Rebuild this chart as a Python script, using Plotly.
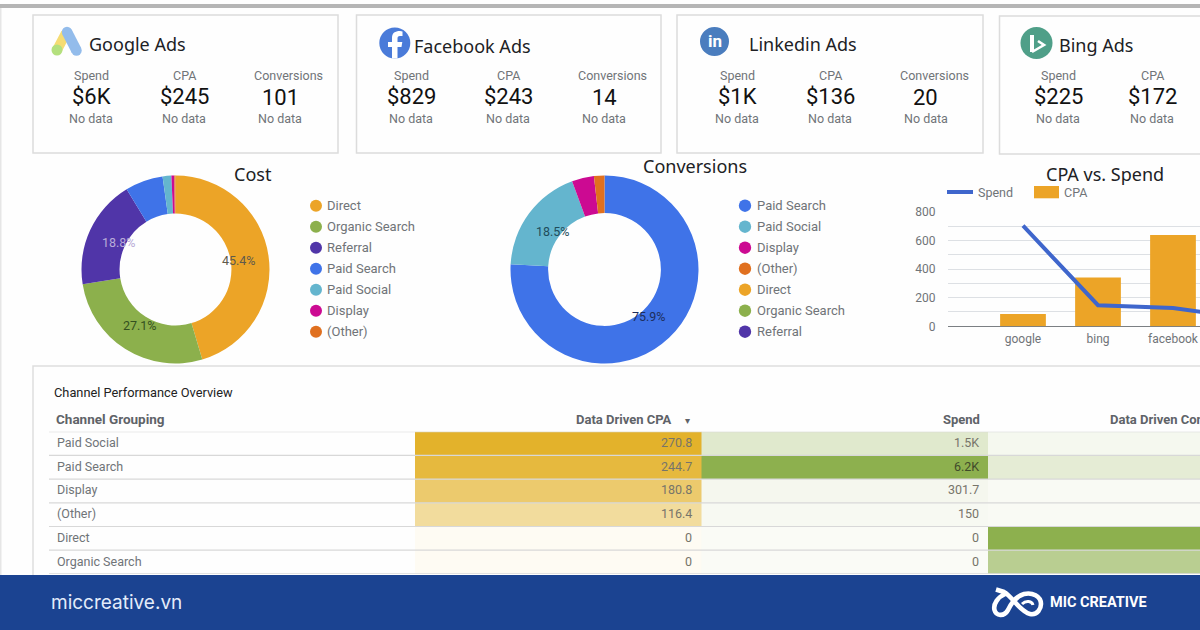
import plotly.graph_objects as go

# ---------- data ----------
cost_labels = ["Direct", "Organic Search", "Referral", "Paid Search", "Paid Social", "Display", "(Other)"]
cost_values = [45.4, 27.1, 18.8, 6.5, 1.5, 0.5, 0.2]
conv_labels = ["Paid Search", "Paid Social", "Display", "(Other)", "Direct", "Organic Search", "Referral"]
conv_values = [75.9, 18.5, 3.8, 1.8, 0, 0, 0]

bar_categories = ["google", "bing", "facebook", "linkedin"]
cpa_bars = [86, 340, 637, 0]
spend_line = [702, 147, 128, 56]
y_ticks = [0, 100, 200, 300, 400, 500, 600, 700, 800]
y_ticktext = ["0", "", "200", "", "400", "", "600", "", "800"]

card_names = ["Google Ads", "Facebook Ads", "Linkedin Ads", "Bing Ads"]
card_spend = ["$6K", "$829", "$1K", "$225"]
card_cpa = ["$245", "$243", "$136", "$172"]
card_conv = ["101", "14", "20", None]

rows = ["Paid Social", "Paid Search", "Display", "(Other)", "Direct", "Organic Search"]
columns = ["Data Driven CPA", "Spend", "Data Driven Conversions"]
cpa_values = [270.8, 244.7, 180.8, 116.4, 0, 0]
spend_values = [1500, 6200, 301.7, 150, 0, 0]
spend_text = ["1.5K", "6.2K", "301.7", "150", "0", "0"]
conv_column_values = [5.6, 25.3, 1.7, 1.3, 130, 78]

# ---------- styles ----------
W, H = 1200, 630
COL = {"Direct": "#ECA427", "Organic Search": "#8CB04C", "Referral": "#5035A8", "Paid Search": "#3F73E8",
       "Paid Social": "#64B5CE", "Display": "#CC0A92", "(Other)": "#E0701F"}
GRAY = "#707478"
SANS = "Roboto"
HEAD = "Noto Sans"


def X(v):
    return v / W


def Y(v):
    return 1 - v / H


shapes, ann = [], []


def text(x, y, s, size=13, color=GRAY, anchor="center", family=SANS, bold=False):
    ann.append(dict(xref="paper", yref="paper", x=X(x), y=Y(y), text=f"<b>{s}</b>" if bold else s,
                    showarrow=False, xanchor=anchor, yanchor="middle", align=anchor,
                    font=dict(size=size, color=color, family=family), borderpad=0))


def rect(x0, y0, x1, y1, fill=None, line=None, lw=1.5, layer="below"):
    shapes.append(dict(type="rect", xref="paper", yref="paper", x0=X(x0), x1=X(x1), y0=Y(y0), y1=Y(y1),
                       fillcolor=fill or "rgba(0,0,0,0)", line=dict(color=line or "rgba(0,0,0,0)", width=lw if line else 0),
                       layer=layer))


def circle(cx, cy, r, fill, layer="above"):
    shapes.append(dict(type="circle", xref="paper", yref="paper", x0=X(cx - r), x1=X(cx + r), y0=Y(cy + r), y1=Y(cy - r),
                       fillcolor=fill, line=dict(width=0), layer=layer))


def path(pts, color, width=0, fill=None, layer="above"):
    out = []
    for p in pts:
        if isinstance(p, str):
            out.append(p)
        else:
            out.append(f"{X(p[0]):.5f},{Y(p[1]):.5f}")
    shapes.append(dict(type="path", xref="paper", yref="paper", path=" ".join(out),
                       line=dict(color=color, width=width), fillcolor=fill or "rgba(0,0,0,0)", layer=layer))


# page furniture
rect(0, 4, 1200, 8, fill="#B5B5B5")
rect(0, 8, 1.5, 575, fill="#E6E6E6")

# KPI cards
card_boxes = [(33, 15, 338, 153), (356.5, 15, 661, 153), (677, 15, 983, 153), (999.5, 16, 1215, 154)]
name_pos = [(88, 44), (413, 46), (748, 44), (1058, 45)]
col_x = [(91, 184, 288, 280), (411, 508, 612, 604), (737, 830, 934, 926), (1058, 1152, 1256, 1248)]
for i, b in enumerate(card_boxes):
    rect(*b, line="#DCDCDC", lw=1.5)
    text(*name_pos[i], card_names[i], size=18, color="#202124", anchor="left", family=HEAD)
    a, c, d, e = col_x[i]
    text(a, 75, "Spend", size=12.5)
    text(c, 75, "CPA", size=12.5)
    text(a, 96, card_spend[i], size=22, color="#111111")
    text(c, 96, card_cpa[i], size=22, color="#111111")
    text(a, 118.5, "No data", size=12.5)
    text(c, 118.5, "No data", size=12.5)
    if card_conv[i] is not None:
        text(d, 75, "Conversions", size=12.5)
        text(e, 97, card_conv[i], size=22, color="#111111")
        text(e, 118.5, "No data", size=12.5)

# card logos
path(["M", (66, 33), "L", (57, 50)], "#F5DC73", width=10)
circle(57, 50, 5.5, "#B4E07E")
path(["M", (67, 32), "L", (76.5, 50.5)], "#93BCEB", width=10.5)
circle(67, 32, 5.2, "#93BCEB")
circle(76.5, 50.5, 5.2, "#93BCEB")
circle(394.8, 43, 15.5, "#4A7BD9")
path(["M", (392, 58.4), "L", (392, 47), "L", (388, 47), "L", (388, 42), "L", (392, 42), "L", (392, 38),
      "C", (392, 33), (395, 31), (400, 31), "L", (402.5, 31.5), "L", (402.5, 36), "L", (400, 36),
      "C", (398, 36), (397.5, 37), (397.5, 38.5), "L", (397.5, 42), "L", (402.3, 42), "L", (401.5, 47),
      "L", (397.5, 47), "L", (397.5, 58.4), "Z"], "#FFFFFF", fill="#FFFFFF")
circle(714.5, 41.5, 14.5, "#4A7DBE")
text(714.5, 41.5, "in", size=17, color="#FFFFFF", bold=True)
circle(1036.5, 43, 16, "#4F9F88")
path(["M", (1032, 35), "L", (1032, 52)], "#FFFFFF", width=4)
path(["M", (1032, 52), "L", (1044, 45), "L", (1038, 41)], "#FFFFFF", width=2.6)

# chart titles
text(253, 174, "Cost", size=18, color="#202124", family=HEAD)
text(695, 166, "Conversions", size=18, color="#202124", family=HEAD)
text(1105, 174, "CPA vs. Spend", size=18, color="#202124", family=HEAD)

# donut legends
for i, name in enumerate(cost_labels):
    yy = 205.7 + 21 * i
    circle(316, yy, 6, COL[name])
    text(326, yy, name, size=13, anchor="left")
for i, name in enumerate(conv_labels):
    yy = 205.7 + 21 * i
    circle(745, yy, 6.2, COL[name])
    text(755.5, yy, name, size=13, anchor="left")

# donut labels
for (x, y, v, c) in [(238.7, 260.7, cost_values[0], "#5f5a4c"), (140, 325.7, cost_values[1], "#34501f"),
                     (118.7, 243, cost_values[2], "#b9acd8")]:
    text(x, y, f"{v:.1f}%", size=12.5, color=c)
for (x, y, v, c) in [(649, 316.7, conv_values[0], "#1d2e5c"), (553, 231.7, conv_values[1], "#1f4c5a")]:
    text(x, y, f"{v:.1f}%", size=12.5, color=c)

# bar-chart legend
path(["M", (947, 192), "L", (973, 192)], "#3F66CC", width=4)
text(977, 192, "Spend", size=12.5, anchor="left")
rect(1034, 186, 1059, 198.3, fill="#ECA427", layer="above")
text(1063, 192, "CPA", size=12.5, anchor="left")

# table furniture
path(["M", (33, 575), "L", (33, 366), "L", (1200, 366)], "#DEDEDE", width=1.5, layer="below")
text(53, 392, "Channel Performance Overview", size=12.8, color="#222222", anchor="left")
text(55, 419, "Channel Grouping", size=13.5, color="#5f6368", anchor="left", bold=True)
text(673, 419, "Data Driven CPA", size=13, color="#5f6368", anchor="right", bold=True)
text(687, 420, "▾", size=10, color="#5f6368")
text(981, 419, columns[1], size=13, color="#5f6368", anchor="right", bold=True)
text(1109, 419, columns[2], size=13, color="#5f6368", anchor="left", bold=True)

# footer
rect(0, 575, 1200, 630, fill="#1B4391", layer="above")
text(50, 602, "miccreative.vn", size=19, color="#E4ECFA", anchor="left", family="Inter")
text(1049, 602, "MIC CREATIVE", size=14.5, color="#FFFFFF", anchor="left", family=SANS, bold=True)
path(["M", (996, 589.5), "L", (1004, 592), "C", (1012, 596), (1020, 612), (1030, 614),
      "C", (1038, 615.5), (1041, 608), (1041, 604), "C", (1041, 596), (1032, 592), (1024, 594),
      "C", (1016, 596), (1010, 606), (1008, 610), "C", (1004, 617), (996, 616), (994.5, 610),
      "C", (993, 604), (998, 597), (1005, 594)], "#FFFFFF", width=4.6)
path(["M", (1022, 604), "C", (1026, 600), (1032, 601), (1033, 605)], "#FFFFFF", width=3)

fig = go.Figure()

# donuts
fig.add_trace(go.Pie(labels=cost_labels, values=cost_values, hole=0.595, sort=False, direction="clockwise", rotation=0,
                     marker=dict(colors=[COL[n] for n in cost_labels], line=dict(width=0)), textinfo="none",
                     domain=dict(x=[X(175.5 - 94), X(175.5 + 94)], y=[Y(269.5 + 94), Y(269.5 - 94)]), showlegend=False))
fig.add_trace(go.Pie(labels=conv_labels, values=conv_values, hole=0.6, sort=False, direction="clockwise", rotation=0,
                     marker=dict(colors=[COL[n] for n in conv_labels], line=dict(width=0)), textinfo="none",
                     domain=dict(x=[X(604.5 - 94), X(604.5 + 94)], y=[Y(269.5 + 94), Y(269.5 - 94)]), showlegend=False))

# combo chart
fig.add_trace(go.Bar(x=bar_categories, y=cpa_bars, marker=dict(color="#ECA427", line=dict(width=0)), width=0.61,
                     xaxis="x", yaxis="y", name="CPA", showlegend=False))
fig.add_trace(go.Scatter(x=bar_categories, y=spend_line, mode="lines", line=dict(color="#3F66CC", width=4),
                         xaxis="x", yaxis="y", name="Spend", showlegend=False))

# table as per-column heatmaps
table_cols = [
    (cpa_values, "#FEFBF3", "#E3B22B"),
    (spend_values, "#FAFBF6", "#8DB04E"),
    (conv_column_values, "#FAFBF6", "#8DB04E"),
]
for j, (vals, lo, hi) in enumerate(table_cols):
    fig.add_trace(go.Heatmap(z=[[v] for v in vals], x0=j, dx=1, y0=0, dy=1, zmin=0, zmax=max(vals),
                             colorscale=[[0, lo], [1, hi]], showscale=False, xaxis="x2", yaxis="y2", name=columns[j]))

# table text
for k, name in enumerate(rows):
    ann.append(dict(xref="paper", yref="y2", x=X(55), y=k, text=name, showarrow=False, xanchor="left", yanchor="middle",
                    yshift=1, font=dict(size=12.5, color=GRAY, family=SANS)))
    for j, s in enumerate([f"{cpa_values[k]:g}" if cpa_values[k] else "0", spend_text[k]]):
        ann.append(dict(xref="x2", yref="y2", x=j + 0.475, y=k, text=s, showarrow=False, xanchor="right",
                        yanchor="middle", yshift=1,
                        font=dict(size=12.5, color="#77756a" if not (j == 1 and k == 1) else "#3f4a2a", family=SANS)))
for k in range(0, 7):
    shapes.append(dict(type="line", xref="paper", yref="y2", x0=X(49), x1=1, y0=k - 0.5, y1=k - 0.5,
                       line=dict(color="#D8D8D8", width=1.2), layer="above"))

fig.update_layout(
    width=W, height=H, margin=dict(l=0, r=0, t=0, b=0, autoexpand=False), autosize=False,
    paper_bgcolor="#FEFEFE", plot_bgcolor="rgba(0,0,0,0)", showlegend=False,
    shapes=shapes, annotations=ann, font=dict(family=SANS),
    xaxis=dict(domain=[X(948), 1], range=[-1, 2.36], type="category", categoryorder="array",
               categoryarray=bar_categories, showgrid=False, ticks="outside", ticklen=1, tickcolor="rgba(0,0,0,0)",
               showline=False, zeroline=False, automargin=False,
               tickfont=dict(size=12, color=GRAY, family=SANS), anchor="y", fixedrange=True),
    yaxis=dict(domain=[Y(326.3), Y(211.7)], range=[0, 800], tickvals=y_ticks, ticktext=y_ticktext,
               gridcolor="#DDE0E4", gridwidth=1, zeroline=True, zerolinecolor="#7b7f83", zerolinewidth=1.2,
               ticks="outside", ticklen=9, tickcolor="rgba(0,0,0,0)", showline=False, automargin=False,
               tickfont=dict(size=12, color=GRAY, family=SANS), anchor="x", fixedrange=True),
    xaxis2=dict(domain=[X(415), 1], range=[-0.5, -0.5 + (1200 - 415) / 286.5], visible=False, anchor="y2",
                fixedrange=True, automargin=False),
    yaxis2=dict(domain=[Y(573.9), Y(431.7)], range=[5.5, -0.5], visible=False, anchor="x2", fixedrange=True,
                automargin=False),
)

fig.write_html("out.html", config=dict(displayModeBar=False),
               post_script="document.body.style.margin='0';document.body.style.overflow='hidden';")
